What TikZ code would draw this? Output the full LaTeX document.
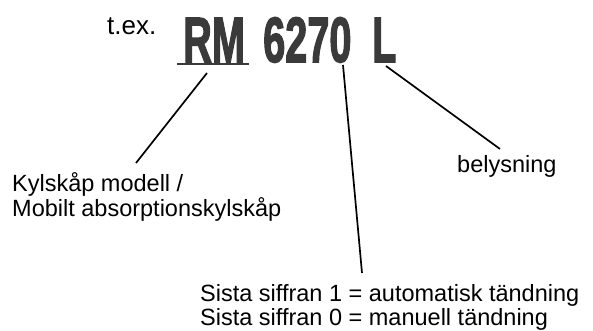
\documentclass[tikz,border=0pt]{standalone}
\usepackage{fontspec}
\usepackage{graphicx}
\setmainfont{Liberation Sans}
\newfontface\codeface{Liberation Sans Bold}[RawFeature={embolden=2.5}]
\definecolor{codegray}{HTML}{3A3A3A}
\tikzset{
  lbl/.style={anchor=base west, inner sep=0pt, font=\fontsize{23.5}{25}\selectfont},
  code/.style={anchor=base west, inner sep=0pt, text=codegray},
  leader/.style={draw=black, line width=1.7pt},
}
\newcommand{\codetext}[1]{\scalebox{0.62}[1]{\fontsize{64}{64}\codeface #1}}
\begin{document}
\begin{tikzpicture}[x=1pt,y=-1pt]
\useasboundingbox (0,0) rectangle (593,331);
% example label
\node[anchor=base west, inner sep=0pt, font=\fontsize{26}{28}\selectfont] (tex) at (107,35) {t.ex.};
% model code
\node[code] (rm) at (183,62) {\codetext{RM}};
\node[code] (num) at (263,62) {\codetext{6270}};
\node[code] (ll) at (372,62) {\codetext{L}};
\draw[codegray, line width=2.5pt] (177,63.8) -- (249,63.8);
% descriptions
\node[lbl] (k1) at (12,191) {Kylskåp modell /};
\node[lbl] (k2) at (12,216) {Mobilt absorptionskylskåp};
\node[lbl] (bel) at (457,172) {belysning};
\node[lbl] (s1) at (200,301) {Sista siffran 1 = automatisk tändning};
\node[lbl] (s2) at (200,325) {Sista siffran 0 = manuell tändning};
% leader ends
\coordinate (a1) at (207,73);
\coordinate (a2) at (136,163);
\coordinate (b1) at (343,65);
\coordinate (b2) at (362,273);
\coordinate (c1) at (386,66);
\coordinate (c2) at (500,149);
\draw[leader] (a1) -- (a2);
\draw[leader] (b1) -- (b2);
\draw[leader] (c1) -- (c2);
\end{tikzpicture}
\end{document}
